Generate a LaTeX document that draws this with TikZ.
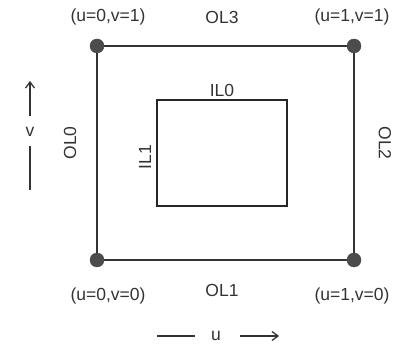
\documentclass[tikz,border=0pt]{standalone}
\usepackage{fontspec}
\setmainfont{Liberation Sans}
\usetikzlibrary{positioning,arrows.meta}

\begin{document}
\begin{tikzpicture}[
  x=1pt, y=-1pt,
  font=\fontsize{17.5}{20}\selectfont,
  text=black!80,
  corner/.style={draw=black!75, fill=black!70, circle, minimum size=14pt, inner sep=0pt},
  edge/.style={draw=black!80, line width=1.6pt},
  patch/.style={draw=black!85, line width=1.6pt, rectangle, minimum width=130pt, minimum height=106pt, inner sep=0pt},
  arrow/.style={-{Straight Barb[length=6pt, width=9pt]}, line width=1.3pt, draw=black!80},
  axis/.style={line width=1.3pt, draw=black!80}
]
\useasboundingbox (0,0) rectangle (407,344);

% corners of the outer loop
\node[corner] (c01) at (97,46) {};
\node[corner] (c11) at (354,46) {};
\node[corner] (c00) at (97,260) {};
\node[corner] (c10) at (354,260) {};

\draw[edge] (c01) -- (c11) -- (c10) -- (c00) -- (c01);

% inner loop
\node[patch] (inner) at (222,153) {};
\node[above=-1pt of inner.north] (il0) {IL0};
\node[rotate=90, anchor=south, inner sep=5pt] (il1) at ([yshift=-4pt]inner.west) {IL1};

% outer loop labels
\node (ol3) at (222,17) {OL3};
\node (ol1) at (222,290) {OL1};
\node[rotate=90] (ol0) at (70,143) {OL0};
\node[rotate=-90] (ol2) at (385,143) {OL2};

\node (uv01) at (108,17) {(u=0,v=1)};
\node (uv11) at (352,17) {(u=1,v=1)};
\node (uv00) at (108,296) {(u=0,v=0)};
\node (uv10) at (352,296) {(u=1,v=0)};

% parameter directions
\node (vlab) at (30,132) {v};
\coordinate (vlow) at (30,116);
\coordinate (vtop) at (30,81);
\coordinate (vstart) at (30,146);
\coordinate (vbot) at (30,190);
\draw[arrow] (vlow) -- (vtop);
\draw[axis] (vstart) -- (vbot);

\node (ulab) at (216,336) {u};
\coordinate (uleft) at (157,336);
\coordinate (uend) at (195,336);
\coordinate (ustart) at (240,336);
\coordinate (uright) at (279,336);
\draw[axis] (uleft) -- (uend);
\draw[arrow] (ustart) -- (uright);
\end{tikzpicture}
\end{document}
